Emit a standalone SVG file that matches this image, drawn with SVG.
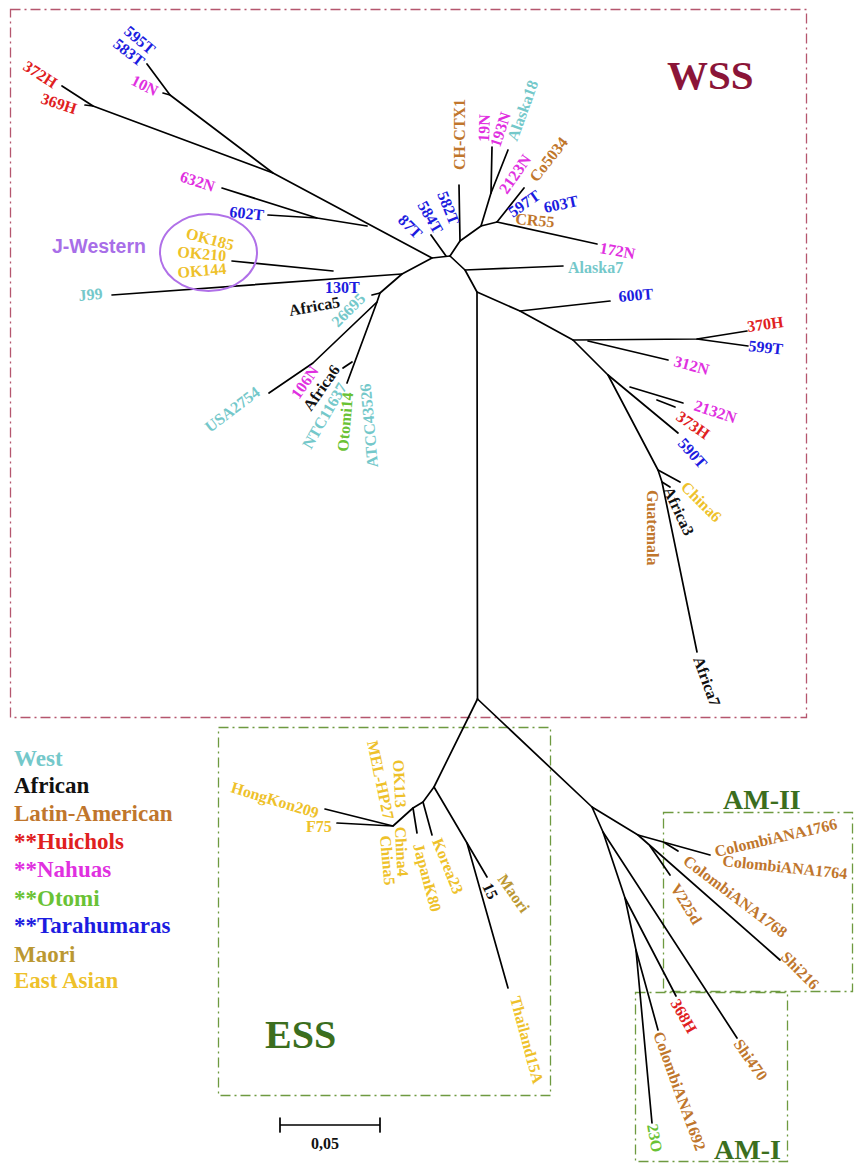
<svg xmlns="http://www.w3.org/2000/svg" width="854" height="1163" viewBox="0 0 854 1163">
<style>
.t{font-family:"Liberation Serif","Times New Roman",serif;font-weight:bold;font-size:16px}
.lg{font-family:"Liberation Serif","Times New Roman",serif;font-weight:bold;font-size:23px}
.big{font-family:"Liberation Serif","Times New Roman",serif;font-weight:bold}
.w{fill:#74c8ca}.k{fill:#111}.b{fill:#c0762c}.r{fill:#e0201e}.m{fill:#e030e0}.g{fill:#6ac235}.u{fill:#1c1ce0}.o{fill:#bb9832}.y{fill:#eec12a}
.e{fill:none;stroke:#000;stroke-width:1.7;stroke-linecap:round;stroke-linejoin:round}
.fr{fill:none;stroke:#b5566e;stroke-width:1.3;stroke-dasharray:10 4 2 4}
.fg{fill:none;stroke:#6e9a40;stroke-width:1.3;stroke-dasharray:10 4 2 4}
</style>
<rect width="854" height="1163" fill="#fff"/>
<g id="frames">
<rect id="frame-wss" class="fr" x="10.5" y="9.5" width="796" height="708"/>
<rect id="frame-ess" class="fg" x="218.5" y="727.5" width="332" height="368"/>
<rect id="frame-am2" class="fg" x="663.5" y="812.5" width="189" height="179"/>
<rect id="frame-am1" class="fg" x="635.5" y="992.5" width="152" height="169"/>
<text class="big" x="667" y="89" font-size="41" fill="#8b1538">WSS</text>
<text class="big" x="265" y="1048" font-size="40" fill="#3b6e1e">ESS</text>
<text class="big" x="723" y="809" font-size="28" fill="#3b6e1e">AM-II</text>
<text class="big" x="714" y="1159" font-size="28" fill="#3b6e1e">AM-I</text>
</g>
<g id="connectors">
<path class="e" d="M147,64 L170,95 L273,173 L432,258 L450,256"/>
<path class="e" d="M163,93 L170,95"/>
<path class="e" d="M62,86 L93,106 L273,173"/>
<path class="e" d="M85,105 L93,106"/>
<path class="e" d="M222,188 L317,218 L367,226"/>
<path class="e" d="M268,215 L317,218"/>
<path class="e" d="M431,235 L446,256"/>
<path class="e" d="M450,256 L460,241 L481,226 L497,222"/>
<path class="e" d="M460,241 L459,185"/>
<path class="e" d="M481,226 L491,193 L492,147"/>
<path class="e" d="M491,193 L508,150"/>
<path class="e" d="M497,222 L524,188"/>
<path class="e" d="M497,222 L597,244"/>
<path class="e" d="M450,256 L465,270 L477,292 L477.5,699"/>
<path class="e" d="M465,270 L563,266"/>
<path class="e" d="M477,292 L520,311 L573,340 L608,375 L658,470 L662,482 L697,652"/>
<path class="e" d="M520,311 L610,301"/>
<path class="e" d="M573,340 L697,339 L747,331"/>
<path class="e" d="M697,339 L748,346"/>
<path class="e" d="M588,341 L668,360"/>
<path class="e" d="M608,375 L678,433"/>
<path class="e" d="M630,387 L683,403"/>
<path class="e" d="M657,400 L675,407"/>
<path class="e" d="M658,470 L680,482"/>
<path class="e" d="M662,482 L670,487"/>
<path class="e" d="M432,258 L402,274 L380,293 L377,302 L347,383"/>
<path class="e" d="M112,295 L402,274"/>
<path class="e" d="M232,261 L333,271"/>
<path class="e" d="M372,295 L380,293"/>
<path class="e" d="M377,302 L313,363 L269,393"/>
<path class="e" d="M352,362 L343,368"/>
<path class="e" d="M477.5,699 L434,787 L467,843 L487,877"/>
<path class="e" d="M467,843 L508,988"/>
<path class="e" d="M434,787 L423,802 L413,808 L393,826 L325,809"/>
<path class="e" d="M393,826 L337,823"/>
<path class="e" d="M423,802 L432,835"/>
<path class="e" d="M413,808 L417,833"/>
<path class="e" d="M477.5,699 L592,807 L638,835 L710,855"/>
<path class="e" d="M665,843 L678,851"/>
<path class="e" d="M638,835 L780,960"/>
<path class="e" d="M650,846 L670,875"/>
<path class="e" d="M592,807 L603,832 L737,1038"/>
<path class="e" d="M603,832 L625,898 L676,996"/>
<path class="e" d="M625,898 L636,950 L652,1123"/>
<path class="e" d="M636,950 L658,1030"/>
</g>
<g id="n-595T"><text class="t u" transform="translate(123,33) rotate(40)">595T</text></g>
<g id="n-583T"><text class="t u" transform="translate(112,46) rotate(38)">583T</text></g>
<g id="n-10N"><text class="t m" transform="translate(130,84) rotate(27)">10N</text></g>
<g id="n-372H"><text class="t r" transform="translate(22,69) rotate(33)">372H</text></g>
<g id="n-369H"><text class="t r" transform="translate(40,103) rotate(18)">369H</text></g>
<g id="n-632N"><text class="t m" transform="translate(179,181) rotate(18)">632N</text></g>
<g id="n-602T"><text class="t u" transform="translate(229,217) rotate(6)">602T</text></g>
<g id="n-87T"><text class="t u" transform="translate(397,221) rotate(45)">87T</text></g>
<g id="n-584T"><text class="t u" transform="translate(417,205) rotate(60)">584T</text></g>
<g id="n-582T"><text class="t u" transform="translate(437,194) rotate(68)">582T</text></g>
<g id="n-CH-CTX1"><text class="t b" transform="translate(465,170) rotate(-90)">CH-CTX1</text></g>
<g id="n-19N"><text class="t m" transform="translate(489,142) rotate(-88)">19N</text></g>
<g id="n-193N"><text class="t m" transform="translate(500,148) rotate(-72)">193N</text></g>
<g id="n-Alaska18"><text class="t w" transform="translate(517,142) rotate(-70)">Alaska18</text></g>
<g id="n-2123N"><text class="t m" transform="translate(507,195) rotate(-55)">2123N</text></g>
<g id="n-Co5034"><text class="t b" transform="translate(537,183) rotate(-52)">Co5034</text></g>
<g id="n-597T"><text class="t u" transform="translate(513,218) rotate(-35)">597T</text></g>
<g id="n-603T"><text class="t u" transform="translate(545,213) rotate(-12)">603T</text></g>
<g id="n-CR55"><text class="t b" transform="translate(515,224) rotate(5)">CR55</text></g>
<g id="n-172N"><text class="t m" transform="translate(599,253) rotate(10)">172N</text></g>
<g id="n-Alaska7"><text class="t w" x="568" y="273">Alaska7</text></g>
<g id="n-600T"><text class="t u" transform="translate(619,302) rotate(-5)">600T</text></g>
<g id="n-370H"><text class="t r" transform="translate(748,332) rotate(-8)">370H</text></g>
<g id="n-599T"><text class="t u" transform="translate(748,351) rotate(6)">599T</text></g>
<g id="n-312N"><text class="t m" transform="translate(673,366) rotate(15)">312N</text></g>
<g id="n-2132N"><text class="t m" transform="translate(693,410) rotate(18)">2132N</text></g>
<g id="n-373H"><text class="t r" transform="translate(675,419) rotate(35)">373H</text></g>
<g id="n-590T"><text class="t u" transform="translate(677,444) rotate(48)">590T</text></g>
<g id="n-China6"><text class="t y" transform="translate(680,488) rotate(45)">China6</text></g>
<g id="n-Africa3"><text class="t k" transform="translate(663,490) rotate(65)">Africa3</text></g>
<g id="n-Guatemala"><text class="t b" transform="translate(647,490) rotate(90)">Guatemala</text></g>
<g id="n-Africa7"><text class="t k" transform="translate(693,659) rotate(70)">Africa7</text></g>
<g id="n-J-Western">
<ellipse cx="208.5" cy="252.5" rx="48.5" ry="38.5" fill="none" stroke="#b070e8" stroke-width="2"/>
<text x="52" y="253" font-family="Liberation Sans, Arial, sans-serif" font-weight="bold" font-size="19.5" fill="#a86ee8">J-Western</text>
<text class="t y" transform="translate(185,238) rotate(15)">OK185</text>
<text class="t y" transform="translate(177,257) rotate(5)">OK210</text>
<text class="t y" transform="translate(178,278) rotate(-5)">OK144</text>
</g>
<g id="n-J99"><text class="t w" transform="translate(79,301) rotate(-5)">J99</text></g>
<g id="n-130T"><text class="t u" x="325" y="293">130T</text></g>
<g id="n-Africa5"><text class="t k" transform="translate(290,316) rotate(-10)">Africa5</text></g>
<g id="n-26695"><text class="t w" transform="translate(338,328) rotate(-45)">26695</text></g>
<g id="n-USA2754"><text class="t w" transform="translate(210,433) rotate(-37)">USA2754</text></g>
<g id="n-106N"><text class="t m" transform="translate(299,400) rotate(-55)">106N</text></g>
<g id="n-Africa6"><text class="t k" transform="translate(311,412) rotate(-55)">Africa6</text></g>
<g id="n-NTC11637"><text class="t w" transform="translate(311,450) rotate(-60)">NTC11637</text></g>
<g id="n-Otomi14"><text class="t g" transform="translate(348,452) rotate(-85)">Otomi14</text></g>
<g id="n-ATCC43526"><text class="t w" transform="translate(378,467) rotate(-95)">ATCC43526</text></g>
<g id="n-HongKon209"><text class="t y" transform="translate(230,792) rotate(17)">HongKon209</text></g>
<g id="n-F75"><text class="t y" x="306" y="832">F75</text></g>
<g id="n-MEL-HP27"><text class="t y" transform="translate(367,742) rotate(78)">MEL-HP27</text></g>
<g id="n-OK113"><text class="t y" transform="translate(393,760) rotate(87)">OK113</text></g>
<g id="n-China4"><text class="t y" transform="translate(395,827) rotate(87)">China4</text></g>
<g id="n-China5"><text class="t y" transform="translate(380,836) rotate(85)">China5</text></g>
<g id="n-JapanK80"><text class="t y" transform="translate(413,845) rotate(75)">JapanK80</text></g>
<g id="n-Korea23"><text class="t y" transform="translate(432,841) rotate(68)">Korea23</text></g>
<g id="n-15"><text class="t k" transform="translate(482,886) rotate(65)">15</text></g>
<g id="n-Maori"><text class="t o" transform="translate(497,879) rotate(55)">Maori</text></g>
<g id="n-Thailand15A"><text class="t y" transform="translate(510,998) rotate(75)">Thailand15A</text></g>
<g id="n-ColombiANA1766"><text class="t b" transform="translate(716,857) rotate(-13)">ColombiANA1766</text></g>
<g id="n-ColombiANA1764"><text class="t b" transform="translate(722,866) rotate(6)">ColombiANA1764</text></g>
<g id="n-ColombiANA1768"><text class="t b" transform="translate(682,863) rotate(37)">ColombiANA1768</text></g>
<g id="n-V225d"><text class="t b" transform="translate(670,888) rotate(58)">V225d</text></g>
<g id="n-Shi216"><text class="t b" transform="translate(780,958) rotate(45)">Shi216</text></g>
<g id="n-368H"><text class="t r" transform="translate(670,1003) rotate(60)">368H</text></g>
<g id="n-Shi470"><text class="t b" transform="translate(733,1044) rotate(55)">Shi470</text></g>
<g id="n-ColombiANA1692"><text class="t b" transform="translate(653,1034) rotate(70)">ColombiANA1692</text></g>
<g id="n-23O"><text class="t g" transform="translate(647,1125) rotate(80)">23O</text></g>
<g id="legend">
<text class="lg w" x="14" y="766">West</text>
<text class="lg k" x="14" y="793">African</text>
<text class="lg b" x="14" y="821">Latin-American</text>
<text class="lg r" x="14" y="849">**Huichols</text>
<text class="lg m" x="14" y="877">**Nahuas</text>
<text class="lg g" x="14" y="906">**Otomi</text>
<text class="lg u" x="14" y="933">**Tarahumaras</text>
<text class="lg o" x="14" y="962">Maori</text>
<text class="lg y" x="14" y="988">East Asian</text>
</g>
<g id="scale">
<path class="e" d="M280,1125 H380 M280,1118 V1132 M380,1118 V1132"/>
<text class="big" x="325" y="1149" font-size="16" text-anchor="middle" fill="#111">0,05</text>
</g>
</svg>
